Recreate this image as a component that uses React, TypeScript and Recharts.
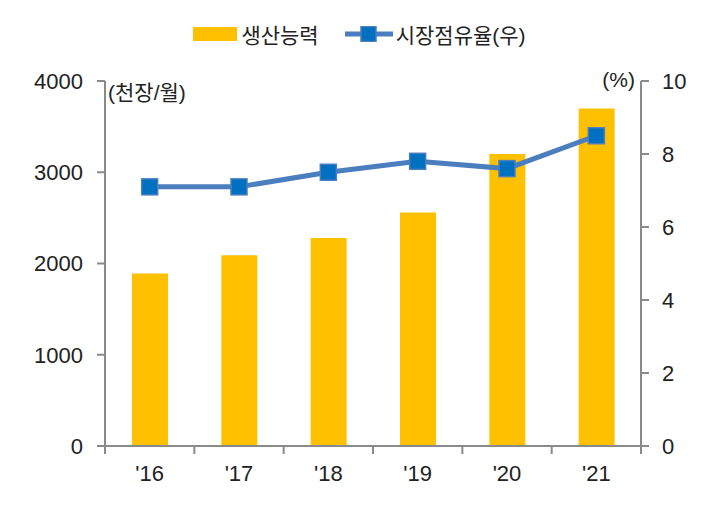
import React from "react";
import { ComposedChart, Bar, Line, XAxis, YAxis, Legend } from "recharts";

const years = ["'16", "'17", "'18", "'19", "'20", "'21"];
const capacity = [1890, 2090, 2280, 2560, 3200, 3700];
const share = [7.1, 7.1, 7.5, 7.8, 7.6, 8.5];
const leftTicks = [0, 1000, 2000, 3000, 4000];
const rightTicks = [0, 2, 4, 6, 8, 10];
const boundaryTicks = [-0.5, 0.5, 1.5, 2.5, 3.5, 4.5, 5.5];
const seriesNames = ["생산능력", "시장점유율(우)"];
const unitLeft = "(천장/월)";
const unitRight = "(%)";

const data = years.map((y, i) => ({ year: y, idx: i, capacity: capacity[i], share: share[i] }));

const FONT = "'Liberation Sans', 'Noto Sans CJK KR', sans-serif";
const AXIS = "#8a8a8a";
const TXT = "#222222";
const BAR = "#FFC000";
const LINE = "#4A7EBE";
const MARK = "#0070C0";

const SquareDot = (props: any) => {
  const { cx, cy } = props;
  if (cx == null || cy == null) return null;
  return <rect x={cx - 8} y={cy - 8} width={16} height={16} fill={MARK} stroke={LINE} strokeWidth={1.5} />;
};

const NoTick = () => <g />;

const LegendContent = () => (
  <div style={{ display: "flex", justifyContent: "center", alignItems: "center", fontFamily: FONT, fontSize: 21, color: TXT, height: 24 }}>
    <span style={{ display: "inline-block", width: 44, height: 14, background: BAR, marginRight: 4 }} />
    <span style={{ marginRight: 26 }}>{seriesNames[0]}</span>
    <svg width={48} height={16} style={{ marginRight: 3 }}>
      <line x1={0} y1={8} x2={48} y2={8} stroke={LINE} strokeWidth={5} strokeLinecap="round" />
      <rect x={16} y={0.5} width={15} height={15} fill={MARK} stroke={LINE} strokeWidth={1.5} />
    </svg>
    <span>{seriesNames[1]}</span>
  </div>
);

export default function App() {
  return (
    <div>
      <style>{`body{margin:0;background:#fff}`}</style>
      <ComposedChart
        width={719}
        height={513}
        data={data}
        margin={{ top: 57, right: 0, bottom: 0, left: 0 }}
      >
        <XAxis
          xAxisId="b"
          type="number"
          dataKey="idx"
          domain={[-0.5, 5.5]}
          ticks={boundaryTicks}
          tick={<NoTick />}
          tickSize={8}
          tickLine={{ stroke: AXIS, strokeWidth: 2 }}
          axisLine={{ stroke: AXIS, strokeWidth: 2 }}
          height={1}
          interval={0}
          allowDataOverflow
        />
        <XAxis
          xAxisId="cat"
          dataKey="year"
          axisLine={false}
          tickLine={false}
          tickSize={8}
          tickMargin={10}
          height={66}
          interval={0}
          tick={{ fill: TXT, fontSize: 22, fontFamily: FONT }}
        />
        <YAxis
          yAxisId="l"
          domain={[0, 4000]}
          ticks={leftTicks}
          width={105}
          tickSize={8}
          tickMargin={14}
          interval={0}
          tickLine={{ stroke: AXIS, strokeWidth: 2 }}
          axisLine={{ stroke: AXIS, strokeWidth: 2 }}
          tick={{ fill: TXT, fontSize: 22, fontFamily: FONT }}
          label={{
            content: (p: any) => (
              <text x={p.viewBox.x + p.viewBox.width + 3} y={p.viewBox.y + 19} fill={TXT} fontSize={21} fontFamily={FONT}>
                {unitLeft}
              </text>
            ),
          }}
        />
        <YAxis
          yAxisId="r"
          orientation="right"
          domain={[0, 10]}
          ticks={rightTicks}
          width={78}
          tickSize={8}
          tickMargin={13}
          interval={0}
          tickLine={{ stroke: AXIS, strokeWidth: 2 }}
          axisLine={{ stroke: AXIS, strokeWidth: 2 }}
          tick={{ fill: TXT, fontSize: 22, fontFamily: FONT }}
          label={{
            content: (p: any) => (
              <text x={p.viewBox.x - 6} y={p.viewBox.y + 6} textAnchor="end" fill={TXT} fontSize={21} fontFamily={FONT}>
                {unitRight}
              </text>
            ),
          }}
        />
        <Legend verticalAlign="top" content={<LegendContent />} wrapperStyle={{ top: 22, left: 0, width: 719 }} />
        <Bar xAxisId="cat" yAxisId="l" dataKey="capacity" name={seriesNames[0]} fill={BAR} barSize={36} isAnimationActive={false} />
        <Line
          xAxisId="cat"
          yAxisId="r"
          dataKey="share"
          name={seriesNames[1]}
          stroke={LINE}
          strokeWidth={5}
          dot={<SquareDot />}
          activeDot={false}
          isAnimationActive={false}
        />
      </ComposedChart>
    </div>
  );
}
